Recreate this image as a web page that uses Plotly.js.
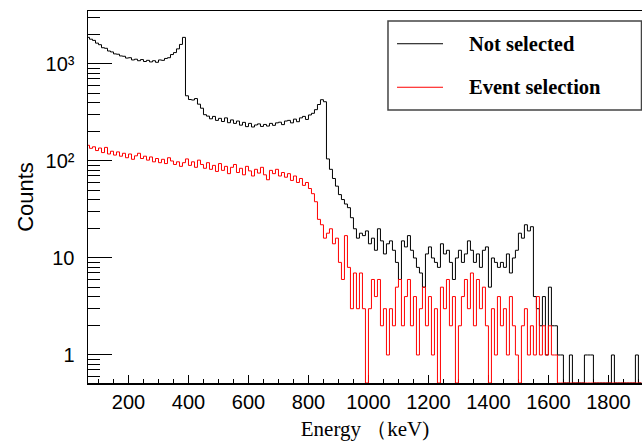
<!DOCTYPE html>
<html>
<head>
<meta charset="utf-8">
<script src="https://cdn.plot.ly/plotly-3.0.1.min.js"></script>
<style>html,body{margin:0;padding:0;background:#fff;}#chart{width:642px;height:441px;}</style>
</head>
<body>
<div id="chart"></div>
<script>
// Histogram binning (keV): bins start at binStart, each binWidth wide
const binStart = 60;
const binWidth = 10;

// "Not selected" counts per 10 keV bin (60 ... 1900 keV)
const notSelected = [
  1880, 1800, 1750, 1640, 1580, 1470, 1450, 1360, 1330, 1270,   // 60-150
  1260, 1210, 1200, 1150, 1160, 1100, 1120, 1080, 1110, 1060,   // 160-250
  1090, 1050, 1080, 1040, 1100, 1090, 1140, 1160, 1250, 1310,   // 260-350
  1430, 1590, 1880, 470, 430, 425, 440, 385, 350, 300,          // 360-450
  290, 272, 288, 262, 275, 255, 278, 248, 265, 244,             // 460-550
  258, 234, 250, 226, 244, 224, 235, 241, 227, 238,             // 560-650
  229, 244, 233, 247, 251, 237, 258, 262, 247, 270,             // 660-750
  254, 278, 288, 268, 298, 310, 338, 382, 428, 408,             // 760-850
  105, 82, 66, 55, 45, 40, 36, 33, 26, 20,                      // 860-950
  16, 18, 17, 19, 14, 16, 12, 20, 15, 11,                       // 960-1050
  14, 15, 12, 9, 6, 15, 13, 17, 12, 10,                         // 1060-1150
  8, 7, 5, 11, 13, 10, 9, 8, 14, 11,                            // 1160-1250
  12, 9, 6, 10, 12, 9, 11, 15, 12, 9,                           // 1260-1350
  11, 8, 12, 13, 5, 10, 9, 8, 9, 8,                             // 1360-1450
  11, 7, 10, 12, 18, 16, 22, 19, 21, 4,                         // 1460-1550
  3, 2, 4, 1, 5, 2, 2, 1, 1, 0,                                 // 1560-1650
  0, 1, 0, 0, 0, 0, 1, 1, 1, 0,                                 // 1660-1750
  0, 0, 0, 0, 0, 1, 0, 0, 0, 0,                                 // 1760-1850
  0, 0, 0, 1, 0                                                 // 1860-1900
];

// "Event selection" counts per 10 keV bin (60 ... 1900 keV)
const eventSelection = [
  145, 135, 140, 128, 136, 122, 138, 118, 126, 115,             // 60-150
  124, 112, 120, 108, 118, 104, 113, 120, 106, 112,             // 160-250
  102, 110, 98, 106, 96, 104, 94, 108, 100, 92,                 // 260-350
  98, 88, 96, 105, 90, 98, 86, 102, 92, 84,                     // 360-450
  96, 82, 90, 78, 94, 80, 88, 74, 86, 92,                       // 460-550
  76, 84, 72, 88, 79, 70, 82, 75, 86, 72,                       // 560-650
  64, 80, 74, 82, 70, 76, 68, 74, 63, 70,                       // 660-750
  60, 66, 56, 60, 52, 46, 38, 25, 22, 16,                       // 760-850
  18, 20, 14, 16, 9, 6, 17, 8, 3, 7,                            // 860-950
  3, 7, 3, 0, 3, 6, 4, 6, 2, 3,                                 // 960-1050
  1, 3, 2, 5, 6, 2, 4, 6, 2, 4,                                 // 1060-1150
  1, 3, 5, 2, 4, 1, 3, 0, 5, 3,                                 // 1160-1250
  6, 2, 4, 0, 2, 4, 6, 3, 7, 2,                                 // 1260-1350
  6, 3, 5, 2, 0, 3, 1, 4, 2, 3,                                 // 1360-1450
  1, 4, 2, 1, 0, 2, 3, 1, 2, 1,                                 // 1460-1550
  4, 1, 2, 1, 2, 1, 1, 0, 0, 0,                                 // 1560-1650
  0, 0, 0, 0, 0, 0, 0, 0, 0, 0,                                 // 1660-1750
  0, 0, 0, 0, 0, 0, 0, 0, 0, 0,                                 // 1760-1850
  0, 0, 0, 0, 0                                                 // 1860-1900
];

const seriesNames = ['Not selected', 'Event selection'];
const seriesColors = ['#000000', '#ff0000'];

// Axis ticks
const xRange = [65, 1912];
const yLogRange = [-0.289, 3.546];
const yTickVals = [1, 10, 100, 1000];
const yTickText = ['1', '10', '10²', '10³'];
const yMinorTickVals = [0.6, 0.7, 0.8, 0.9, 2, 3, 4, 5, 6, 7, 8, 9,
  20, 30, 40, 50, 60, 70, 80, 90, 200, 300, 400, 500, 600, 700, 800, 900, 2000, 3000];

// Build step-histogram x/y (bin edges); empty bins sit on the axis floor (log scale)
const yFloor = Math.pow(10, yLogRange[0]);
function stepXY(counts) {
  const x = [], y = [];
  for (let i = 0; i < counts.length; i++) {
    x.push(binStart + i * binWidth);
    y.push(counts[i] > 0 ? counts[i] : yFloor);
  }
  x.push(binStart + counts.length * binWidth);
  y.push(counts[counts.length - 1] > 0 ? counts[counts.length - 1] : yFloor);
  return {x, y};
}

const traces = [notSelected, eventSelection].map((c, k) => {
  const s = stepXY(c);
  return {
    type: 'scatter', mode: 'lines', name: seriesNames[k],
    x: s.x, y: s.y,
    line: {shape: 'hv', color: seriesColors[k], width: 1},
    showlegend: false, hoverinfo: 'skip'
  };
});

// legend box geometry in paper coordinates
const L = {x0: 0.5415, x1: 0.9991, y0: 0.7339, y1: 0.9731,
           lx0: 0.5578, lx1: 0.6408, tx: 0.6841, rows: [0.9120, 0.7950]};

const layout = {
  width: 642, height: 441,
  margin: {l: 88, r: 0, t: 11, b: 58},
  paper_bgcolor: '#ffffff', plot_bgcolor: '#ffffff',
  showlegend: false,
  xaxis: {
    range: xRange, showgrid: false, zeroline: false,
    showline: true, linecolor: '#000', linewidth: 1.5, mirror: true,
    layer: 'below traces',
    tickmode: 'linear', tick0: 0, dtick: 200,
    ticks: 'inside', ticklen: 8, tickwidth: 1, tickcolor: '#000',
    minor: {tickmode: 'linear', tick0: 0, dtick: 50, ticks: 'inside', ticklen: 4, tickwidth: 1, tickcolor: '#000', showgrid: false},
    tickfont: {family: 'Liberation Sans, Arial, sans-serif', size: 20, color: '#000'},
    title: {text: 'Energy （keV)', standoff: 10,
            font: {family: 'Liberation Serif, Times New Roman, serif', size: 21, color: '#000'}}
  },
  yaxis: {
    type: 'log', range: yLogRange, showgrid: false, zeroline: false,
    showline: true, linecolor: '#000', linewidth: 1.5, mirror: true,
    layer: 'below traces',
    tickmode: 'array', tickvals: yTickVals, ticktext: yTickText,
    ticks: 'inside', ticklen: 24, tickwidth: 1, tickcolor: '#000',
    ticklabelstandoff: 8,
    minor: {tickmode: 'array', tickvals: yMinorTickVals, ticks: 'inside', ticklen: 12, tickwidth: 1, tickcolor: '#000', showgrid: false},
    tickfont: {family: 'Liberation Sans, Arial, sans-serif', size: 20, color: '#000'},
    title: {text: 'Counts', standoff: 6,
            font: {family: 'Liberation Sans, Arial, sans-serif', size: 22, color: '#000'}}
  },
  shapes: [
    {type: 'rect', xref: 'paper', yref: 'paper', x0: L.x0, x1: L.x1, y0: L.y0, y1: L.y1,
     line: {color: '#444', width: 1.5}, fillcolor: '#ffffff', layer: 'above'},
    {type: 'line', xref: 'paper', yref: 'paper', x0: L.lx0, x1: L.lx1, y0: L.rows[0], y1: L.rows[0],
     line: {color: seriesColors[0], width: 1}},
    {type: 'line', xref: 'paper', yref: 'paper', x0: L.lx0, x1: L.lx1, y0: L.rows[1], y1: L.rows[1],
     line: {color: seriesColors[1], width: 1}}
  ],
  annotations: seriesNames.map((n, k) => ({
    xref: 'paper', yref: 'paper', x: L.tx, y: L.rows[k], xanchor: 'left', yanchor: 'middle',
    text: '<b>' + n + '</b>', showarrow: false,
    font: {family: 'Liberation Serif, Times New Roman, serif', size: 20.5, color: '#000'}
  }))
};

Plotly.newPlot('chart', traces, layout, {displayModeBar: false, staticPlot: true});
</script>
</body>
</html>
